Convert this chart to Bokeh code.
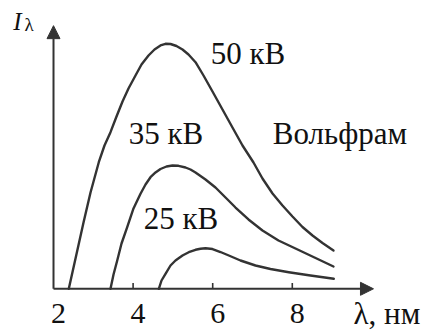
from bokeh.plotting import figure
from bokeh.models import Range1d, Arrow, NormalHead, ColumnDataSource
from bokeh.core.properties import value
from bokeh.embed import file_html
from bokeh.resources import INLINE

# Bremsstrahlung spectra of a tungsten anode at three tube voltages
# wavelength (x) and spectral intensity (arbitrary units)
lam_50 = [2.384, 2.553, 2.754, 2.930, 3.138, 3.281, 3.432, 3.583, 3.734, 3.884,
          4.060, 4.211, 4.387, 4.538, 4.688, 4.814, 4.940, 5.090, 5.241, 5.392,
          5.568, 5.769, 5.995, 6.246, 6.497, 6.749, 7.025, 7.251, 7.503, 7.754,
          8.005, 8.256, 8.508, 8.759, 9.035]
int_50 = [0.0, 1.237, 2.706, 3.931, 5.167, 5.849, 6.392, 7.033, 7.645, 8.176,
          8.706, 9.155, 9.522, 9.767, 9.931, 10.0, 9.992, 9.910, 9.767, 9.563,
          9.249, 8.706, 8.053, 7.318, 6.584, 5.849, 5.155, 4.502, 3.890, 3.400,
          2.951, 2.522, 2.176, 1.869, 1.563]

lam_35 = [3.432, 3.508, 3.601, 3.709, 3.852, 4.010, 4.186, 4.312, 4.437, 4.563,
          4.688, 4.839, 4.990, 5.141, 5.317, 5.442, 5.568, 5.819, 6.070, 6.322,
          6.573, 6.899, 7.251, 7.653, 8.080, 8.558, 9.035]
int_35 = [0.0, 0.584, 1.155, 1.849, 2.514, 3.278, 3.878, 4.257, 4.555, 4.747,
          4.890, 4.992, 5.033, 5.020, 4.951, 4.869, 4.747, 4.461, 4.135, 3.727,
          3.318, 2.829, 2.380, 1.971, 1.645, 1.278, 0.910]

lam_25 = [4.646, 4.714, 4.814, 4.940, 5.065, 5.241, 5.399, 5.568, 5.693, 5.819,
          5.995, 6.196, 6.405, 6.698, 7.075, 7.452, 7.912, 8.457, 9.043]
int_25 = [0.0, 0.339, 0.612, 0.951, 1.155, 1.359, 1.494, 1.592, 1.633, 1.657,
          1.624, 1.502, 1.359, 1.155, 0.951, 0.808, 0.678, 0.543, 0.408]

curve_labels = ["50 кВ", "35 кВ", "25 кВ"]
material = "Вольфрам"
tick_values = [2, 4, 6, 8]
tick_labels = ["2", "4", "6", "8"]
x_title = "λ, нм"

INK = "#333333"
TXT = "#111111"
FONT = value("Liberation Serif")
LIFT = -10  # screen-space nudge applied to every text baseline

p = figure(width=424, height=334, output_backend="svg", toolbar_location=None,
           x_range=Range1d(0.668, 11.322), y_range=Range1d(-1.865, 11.767),
           x_axis_type=None, y_axis_type=None, min_border=0,
           outline_line_color=None)
p.grid.visible = False
p.background_fill_color = "white"
p.border_fill_color = "white"

# spectra
for xs, ys in ((lam_50, int_50), (lam_35, int_35), (lam_25, int_25)):
    p.line(xs, ys, line_color=INK, line_width=2.4, line_join="round",
           line_cap="round")

# axes drawn as arrows from the origin
x0, y0 = 2.0, 0.0
p.add_layout(Arrow(x_start=x0, y_start=y0, x_end=10.04, y_end=y0,
                   line_color=INK, line_width=2,
                   end=NormalHead(size=13, fill_color=INK, line_color=INK)))
p.add_layout(Arrow(x_start=x0, y_start=y0, x_end=x0, y_end=10.74,
                   line_color=INK, line_width=2,
                   end=NormalHead(size=13, fill_color=INK, line_color=INK)))

# tick marks (none at the origin)
ticks_src = ColumnDataSource(dict(x=tick_values[1:]))
p.segment(x0="x", y0=0.0, x1="x", y1=0.24, source=ticks_src,
          line_color=INK, line_width=1.6)

# tick labels
p.text(x=tick_values, y=[-1.43] * len(tick_values), text=tick_labels,
       text_font=FONT, text_font_size="30px", text_color=TXT,
       text_align="center", text_baseline="alphabetic", x_offset=5,
       y_offset=LIFT)

# axis titles
p.text(x=[9.54], y=[-1.43], text=[x_title], text_font=FONT,
       text_font_size="31px", text_color=TXT, text_align="left",
       text_baseline="alphabetic", y_offset=LIFT)
p.text(x=[0.99], y=[10.51], text=["I"], text_font=FONT, text_font_style="italic",
       text_font_size="25px", text_color=TXT, text_align="left",
       text_baseline="alphabetic", y_offset=LIFT)
p.text(x=[1.27], y=[10.38], text=["λ"], text_font=FONT,
       text_font_size="19px", text_color=TXT, text_align="left",
       text_baseline="alphabetic", y_offset=LIFT)

# curve annotations
p.text(x=[6.887, 4.827, 5.204], y=[9.196, 5.918, 2.449], text=curve_labels,
       text_font=FONT, text_font_size="31px", text_color=TXT,
       text_align="center", text_baseline="alphabetic", y_offset=LIFT)
p.text(x=[9.198], y=[5.931], text=[material], text_font=FONT,
       text_font_size="31px", text_color=TXT, text_align="center",
       text_baseline="alphabetic", y_offset=LIFT)

open("out.html", "w").write(file_html(p, INLINE))
